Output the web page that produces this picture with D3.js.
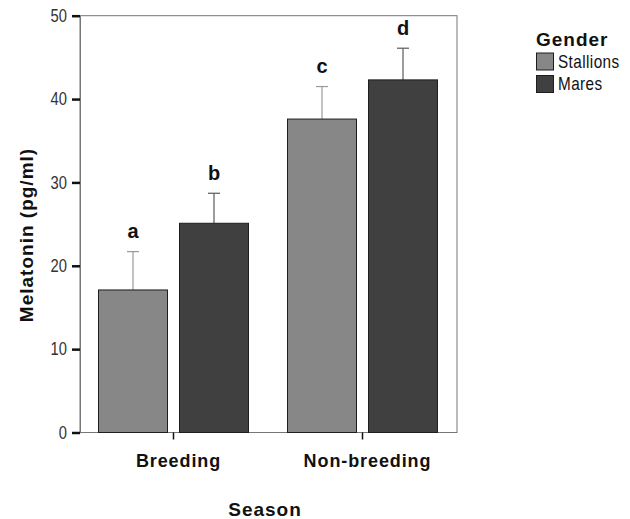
<!DOCTYPE html>
<html>
<head>
<meta charset="utf-8">
<script src="https://cdn.jsdelivr.net/npm/d3@7"></script>
<style>
  body { margin: 0; background: #fff; }
  text { font-family: "Liberation Sans", Arial, sans-serif; }
</style>
</head>
<body>
<script>
(function all(){
  //chart data
  var seasons = ["Breeding", "Non-breeding"];
  var genders = ["Stallions", "Mares"];
  var means = [[17.1, 25.1], [37.6, 42.3]];   //[season][gender]
  var errTop = [[21.7, 28.7], [41.5, 46.1]];
  var letters = [["a", "b"], ["c", "d"]];
  var yTicks = [0, 10, 20, 30, 40, 50];
  var fills = ["#878787", "#404040"];
  var errColors = ["#9a9a9a", "#5a5a5a"];

  var width = 630, height = 519;
  var left = 80, right = 457, top = 15.7, bottom = 432.5;

  var svg = d3.select("body").append("svg")
    .attr("width", width)
    .attr("height", height);

  var y = d3.scaleLinear().domain([0, 50]).range([bottom, top]);

  //frame
  svg.append("rect")
    .attr("x", left).attr("y", top)
    .attr("width", right - left).attr("height", bottom - top)
    .attr("fill", "none").attr("stroke", "#777").attr("stroke-width", 1);

  //group centres along x
  var groupCenters = [173.5, 362.5];
  var barW = 69, gap = 12;

  seasons.forEach(function(s, i){
    genders.forEach(function(g, j){
      var xs = groupCenters[i] + (j === 0 ? -(gap / 2 + barW) : gap / 2);
      var cx = xs + barW / 2;
      //error bar
      svg.append("line")
        .attr("x1", cx).attr("x2", cx)
        .attr("y1", y(means[i][j])).attr("y2", y(errTop[i][j]))
        .attr("stroke", errColors[j]).attr("stroke-width", 1.2);
      svg.append("line")
        .attr("x1", cx - 6).attr("x2", cx + 6)
        .attr("y1", y(errTop[i][j])).attr("y2", y(errTop[i][j]))
        .attr("stroke", errColors[j]).attr("stroke-width", 1.2);
      //bar
      svg.append("rect")
        .attr("x", xs).attr("y", y(means[i][j]))
        .attr("width", barW).attr("height", y(0) - y(means[i][j]))
        .attr("fill", fills[j]).attr("stroke", "#1e1e1e").attr("stroke-width", 1);
      //significance letter
      svg.append("text")
        .attr("x", cx).attr("y", y(errTop[i][j]) - 13.5)
        .attr("text-anchor", "middle")
        .attr("font-size", 20).attr("font-weight", "bold")
        .attr("fill", "#111")
        .text(letters[i][j]);
    });
    //category tick + label
    svg.append("line")
      .attr("x1", groupCenters[i]).attr("x2", groupCenters[i])
      .attr("y1", bottom).attr("y2", bottom + 7)
      .attr("stroke", "#111").attr("stroke-width", 1.5);
    svg.append("text")
      .attr("x", groupCenters[i] + 5).attr("y", 467)
      .attr("text-anchor", "middle")
      .attr("font-size", 18).attr("font-weight", "bold")
      .attr("letter-spacing", 0.9)
      .attr("fill", "#111")
      .text(s);
  });

  //y axis, condensed tick labels
  var yAxis = d3.axisLeft(y).tickValues(yTicks).tickSize(8).tickPadding(4);
  var gy = svg.append("g").attr("transform", "translate(" + left + ",0)").call(yAxis);
  gy.select(".domain").attr("stroke", "#777");
  gy.selectAll(".tick line").attr("stroke", "#111").attr("stroke-width", 2.5);
  gy.selectAll(".tick text")
    .attr("font-family", "Liberation Sans, Arial, sans-serif")
    .attr("font-size", 18).attr("fill", "#333")
    .attr("x", -16)
    .attr("transform", "scale(0.82,1)");

  //axis titles
  svg.append("text")
    .attr("transform", "translate(33," + 235 + ") rotate(-90)")
    .attr("text-anchor", "middle")
    .attr("font-size", 19).attr("font-weight", "bold").attr("fill", "#111")
    .attr("letter-spacing", 1)
    .text("Melatonin (pg/ml)");
  svg.append("text")
    .attr("x", 265).attr("y", 516)
    .attr("text-anchor", "middle")
    .attr("font-size", 19).attr("font-weight", "bold").attr("fill", "#111")
    .attr("letter-spacing", 1)
    .text("Season");

  //legend
  var lg = svg.append("g").attr("transform", "translate(536,0)");
  lg.append("text")
    .attr("x", 0).attr("y", 46)
    .attr("font-size", 19).attr("font-weight", "bold").attr("fill", "#111")
    .attr("letter-spacing", 1)
    .text("Gender");
  genders.forEach(function(g, j){
    lg.append("rect")
      .attr("x", 0.5).attr("y", 53 + j * 22.5)
      .attr("width", 17).attr("height", 17)
      .attr("fill", fills[j]).attr("stroke", "#1e1e1e");
    lg.append("text")
      .attr("transform", "translate(22," + (67.5 + j * 22.5) + ") scale(0.85,1)")
      .attr("font-size", 18).attr("fill", "#111")
      .attr("letter-spacing", 0.5)
      .text(g);
  });
})();
</script>
</body>
</html>
